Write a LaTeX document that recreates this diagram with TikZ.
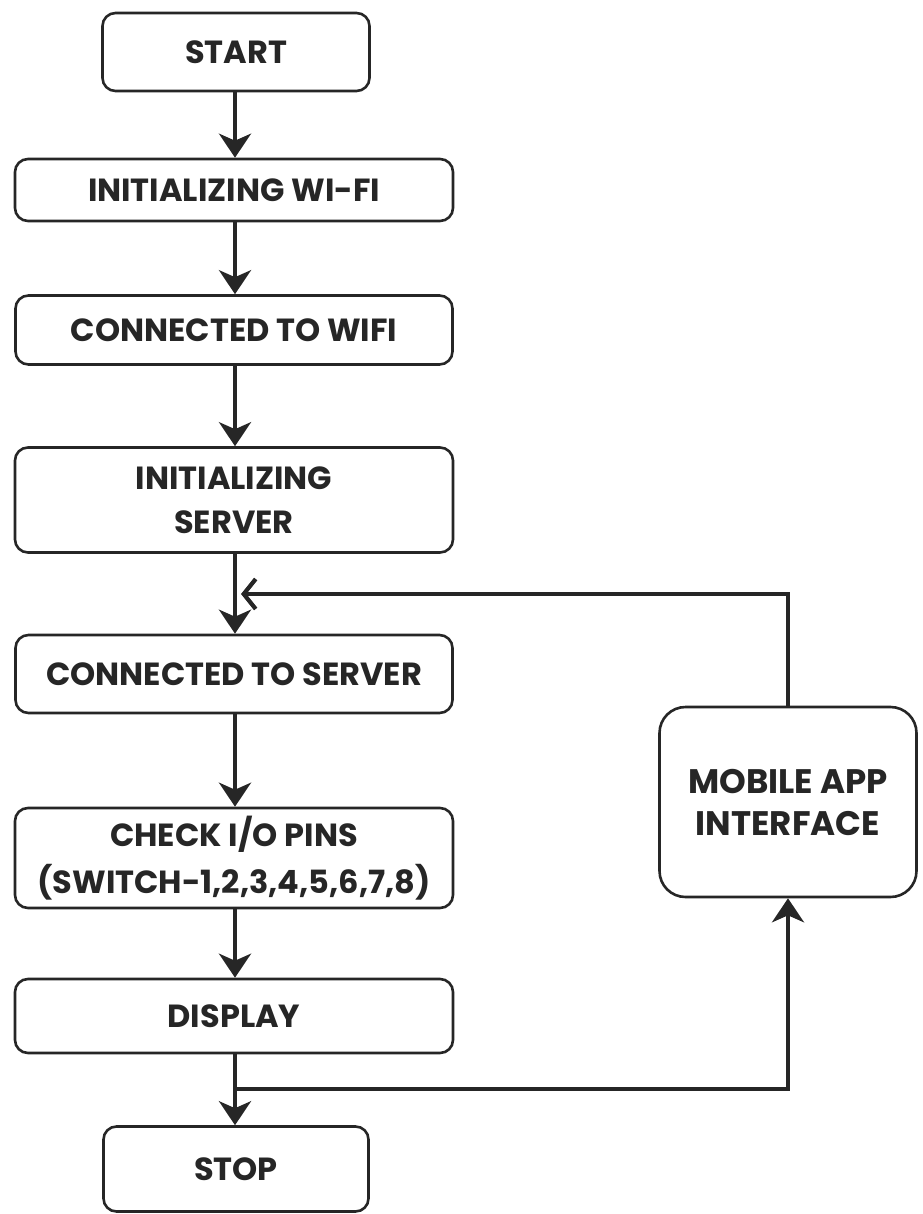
\documentclass[tikz,border=0pt]{standalone}
\usepackage{fontspec}
\setmainfont{Poppins}
\usetikzlibrary{arrows.meta}
\begin{document}
\begin{tikzpicture}[x=1pt,y=-1pt,
  box/.style={draw=black!85, line width=2.6pt, rounded corners=13pt, fill=white,
    align=center, inner sep=0pt, font=\fontsize{32}{44}\selectfont\bfseries, text=black!85},
  flow/.style={line width=3.8pt, draw=black!85, -{Stealth[length=24pt,width=32pt,inset=7pt]}},
  barb/.style={line width=3.8pt, draw=black!85, -{Straight Barb[length=12pt,width=30pt,line width=4.2pt]}}]
\useasboundingbox (0,0) rectangle (922,1214);
\fill[white] (0,0) rectangle (922,1214);
\node[box, minimum width=267pt, minimum height=78pt] (start) at (236,52) {START};
\node[box, minimum width=438pt, minimum height=62pt] (iwifi) at (234,190) {INITIALIZING WI-FI};
\node[box, minimum width=437pt, minimum height=69pt] (cwifi) at (234,330) {CONNECTED TO WIFI};
\node[box, minimum width=438pt, minimum height=105pt] (iserver) at (234,500) {INITIALIZING\\SERVER};
\node[box, minimum width=437pt, minimum height=78pt] (cserver) at (234,674) {CONNECTED TO SERVER};
\node[box, minimum width=438pt, minimum height=100pt, font=\fontsize{32}{47}\selectfont\bfseries] (check) at (234,858) {CHECK I/O PINS\\(SWITCH-1,2,3,4,5,6,7,8)};
\node[box, minimum width=438pt, minimum height=74pt] (display) at (234,1016) {DISPLAY};
\node[box, minimum width=265pt, minimum height=85pt] (stop) at (236,1169) {STOP};
\node[box, minimum width=257pt, minimum height=190pt, rounded corners=26pt, font=\fontsize{34}{42}\selectfont\bfseries] (mobile) at (788,802) {MOBILE APP\\INTERFACE};
\coordinate (jtop) at (235,594);
\coordinate (jbot) at (235,1089);
\draw[flow] (start.south -| 235,0) -- (iwifi.north -| 235,0);
\draw[flow] (iwifi.south -| 235,0) -- (cwifi.north -| 235,0);
\draw[flow] (cwifi.south -| 235,0) -- (iserver.north -| 235,0);
\draw[flow] (iserver.south -| 235,0) -- (cserver.north -| 235,0);
\draw[flow] (cserver.south -| 235,0) -- (check.north -| 235,0);
\draw[flow] (check.south -| 235,0) -- (display.north -| 235,0);
\draw[flow] (display.south -| 235,0) -- (stop.north -| 235,0);
\draw[flow] (jbot) -| (mobile.south);
\draw[barb] (mobile.north) |- ([xshift=6pt]jtop);
\end{tikzpicture}
\end{document}
